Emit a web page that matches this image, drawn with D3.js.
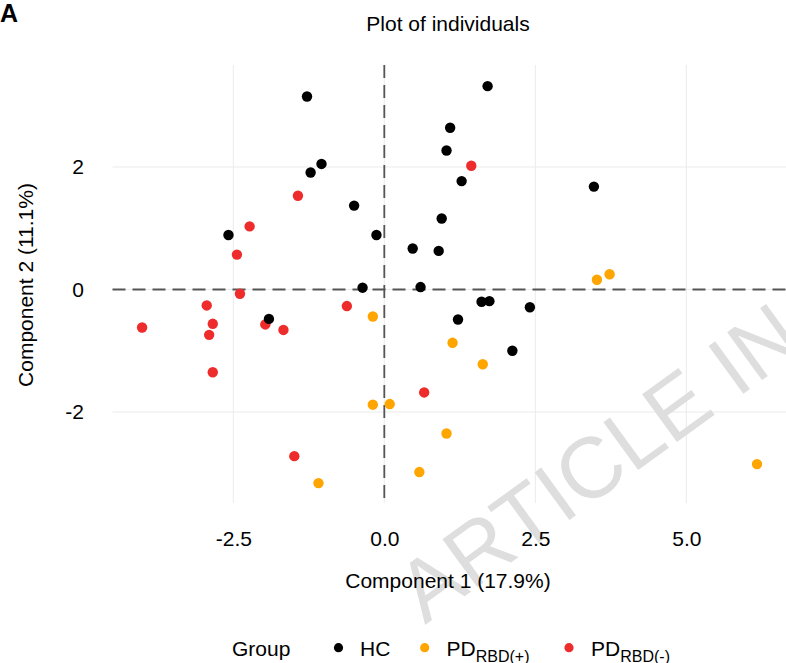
<!DOCTYPE html>
<html>
<head>
<meta charset="utf-8">
<script src="https://cdn.jsdelivr.net/npm/d3@7"></script>
<style>
  html, body { margin: 0; padding: 0; background: #fff; }
  svg { display: block; font-family: "Liberation Sans", Arial, sans-serif; }
</style>
</head>
<body>
<svg id="chart" width="786" height="663"></svg>
<script>
// ---- data ----
const groups = ["HC", "PD_RBD(+)", "PD_RBD(-)"];
const groupColors = ["#000000", "#FFA500", "#EE2C2C"];

const hcX  = [-1.28, 1.09, 1.03, -1.22, -1.04, -0.50, -2.58, -0.13, 0.95, 0.47, 0.90, -0.36, 0.60, 1.71, 1.28, 3.47, 1.61, 1.74, 2.41, -1.91, 1.22, 2.12];
const hcY  = [3.15, 2.64, 2.27, 1.91, 2.05, 1.37, 0.89, 0.89, 1.16, 0.67, 0.63, 0.03, 0.04, 3.32, 1.77, 1.68, -0.20, -0.19, -0.29, -0.48, -0.49, -1.00];

const rbdPosX = [3.52, 3.73, -0.19, 1.13, -0.19, 0.09, 1.03, 0.58, -1.09, 1.63, 6.17];
const rbdPosY = [0.16, 0.25, -0.44, -0.87, -1.88, -1.87, -2.35, -2.98, -3.16, -1.22, -2.85];

const rbdNegX = [-1.43, -2.23, -2.44, -2.39, -2.94, -0.62, 1.44, -4.01, -2.84, -2.90, -2.84, -1.97, -1.67, 0.66, -1.49];
const rbdNegY = [1.53, 1.03, 0.57, -0.07, -0.26, -0.27, 2.02, -0.62, -0.56, -0.74, -1.35, -0.57, -0.66, -1.68, -2.72];

const xTicks = [-2.5, 0.0, 2.5, 5.0];
const xTickLabels = ["-2.5", "0.0", "2.5", "5.0"];
const yTicks = [-2, 0, 2];
const yTickLabels = ["-2", "0", "2"];
const xDomain = [-4.5, 6.68];
const yDomain = [-3.485, 3.665];

const titleText = "Plot of individuals";
const xTitle = "Component 1 (17.9%)";
const yTitle = "Component 2 (11.1%)";

// ---- layout ----
const svg = d3.select("#chart");
const panel = { left: 112.5, right: 787.8, top: 65, bottom: 503 };

const x = d3.scaleLinear().domain(xDomain).range([panel.left, panel.right]);
const y = d3.scaleLinear().domain(yDomain).range([panel.bottom, panel.top]);

// grid
const grid = svg.append("g");
grid.selectAll("line.vx").data(xTicks).join("line")
  .attr("x1", d => x(d)).attr("x2", d => x(d))
  .attr("y1", panel.top).attr("y2", panel.bottom)
  .attr("stroke", "#ebebeb").attr("stroke-width", 1);
grid.selectAll("line.hy").data(yTicks).join("line")
  .attr("x1", panel.left).attr("x2", panel.right)
  .attr("y1", d => y(d)).attr("y2", d => y(d))
  .attr("stroke", "#ebebeb").attr("stroke-width", 1);

// watermark
svg.append("text")
  .attr("transform", "translate(425,625) rotate(-36)")
  .attr("font-size", 86)
  .attr("fill", "#dedede")
  .text("ARTICLE IN");

// dashed reference lines
svg.append("line")
  .attr("x1", panel.left).attr("x2", panel.right)
  .attr("y1", y(0)).attr("y2", y(0))
  .attr("stroke", "#555").attr("stroke-width", 1.8)
  .attr("stroke-dasharray", "13,7");
svg.append("line")
  .attr("x1", x(0)).attr("x2", x(0))
  .attr("y1", panel.top).attr("y2", panel.bottom)
  .attr("stroke", "#555").attr("stroke-width", 1.8)
  .attr("stroke-dasharray", "13,7");

// points
const series = [
  { xs: rbdNegX, ys: rbdNegY, color: groupColors[2] },
  { xs: rbdPosX, ys: rbdPosY, color: groupColors[1] },
  { xs: hcX, ys: hcY, color: groupColors[0] }
];
series.forEach(s => {
  svg.append("g").selectAll("circle")
    .data(s.xs.map((v, i) => [v, s.ys[i]]))
    .join("circle")
    .attr("cx", d => x(d[0]))
    .attr("cy", d => y(d[1]))
    .attr("r", 5.2)
    .attr("fill", s.color);
});

// axes (text only, no lines)
const xAxis = svg.append("g")
  .attr("transform", `translate(0,${panel.bottom + 22})`)
  .call(d3.axisBottom(x).tickValues(xTicks).tickFormat((d, i) => xTickLabels[i]).tickSize(0).tickPadding(6));
xAxis.select(".domain").remove();
xAxis.selectAll("text").attr("font-size", 21).attr("fill", "#000")
  .attr("font-family", "Liberation Sans, Arial, sans-serif");

const yAxis = svg.append("g")
  .attr("transform", `translate(${84},0)`)
  .call(d3.axisLeft(y).tickValues(yTicks).tickFormat((d, i) => yTickLabels[i]).tickSize(0).tickPadding(0));
yAxis.select(".domain").remove();
yAxis.selectAll("text").attr("font-size", 21).attr("fill", "#000")
  .attr("font-family", "Liberation Sans, Arial, sans-serif");

// titles
svg.append("text")
  .attr("x", 448).attr("y", 31)
  .attr("text-anchor", "middle")
  .attr("font-size", 21)
  .text(titleText);

svg.append("text")
  .attr("x", 0).attr("y", 22)
  .attr("font-size", 25)
  .attr("font-weight", "bold")
  .text("A");

svg.append("text")
  .attr("x", 448).attr("y", 588)
  .attr("text-anchor", "middle")
  .attr("font-size", 21)
  .text(xTitle);

svg.append("text")
  .attr("transform", `translate(33,${285}) rotate(-90)`)
  .attr("text-anchor", "middle")
  .attr("font-size", 21)
  .text(yTitle);

// legend
const legY = 656;
svg.append("text").attr("x", 232).attr("y", legY).attr("font-size", 21).text("Group");
const legendItems = [
  { cx: 338.5, tx: 360, main: "HC", sub: null, color: groupColors[0] },
  { cx: 424.7, tx: 446.5, main: "PD", sub: "RBD(+)", color: groupColors[1] },
  { cx: 569, tx: 591, main: "PD", sub: "RBD(-)", color: groupColors[2] }
];
legendItems.forEach(it => {
  svg.append("circle").attr("cx", it.cx).attr("cy", legY - 8.3).attr("r", 4.6).attr("fill", it.color);
  const t = svg.append("text").attr("x", it.tx).attr("y", legY).attr("font-size", 21);
  t.append("tspan").text(it.main);
  if (it.sub) t.append("tspan").attr("font-size", 16).attr("dy", 5.5).text(it.sub);
});
</script>
</body>
</html>
